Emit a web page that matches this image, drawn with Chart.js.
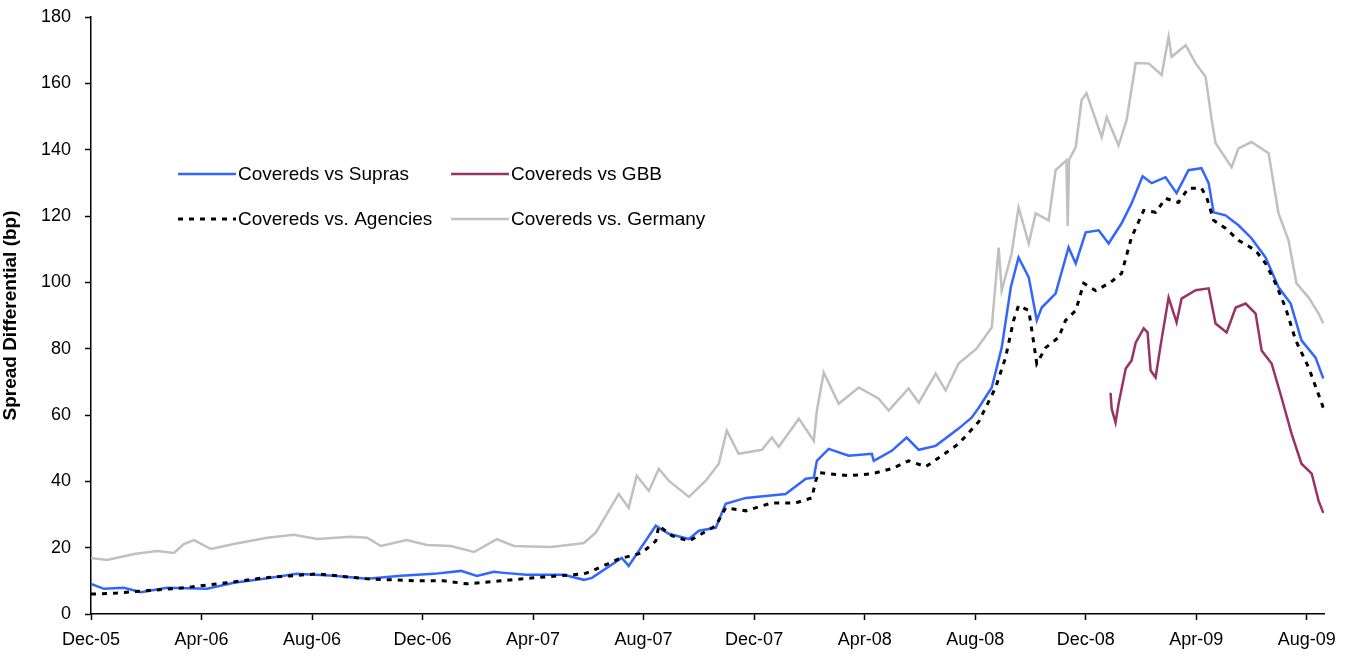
<!DOCTYPE html>
<html>
<head>
<meta charset="utf-8">
<title>Spread Differential</title>
<script src="https://cdn.jsdelivr.net/npm/chart.js@4.4.1/dist/chart.umd.min.js"></script>
<style>
    html, body { margin: 0; padding: 0; background: #ffffff; }
    #wrap { width: 1345px; height: 657px; }
</style>
</head>
<body>
<div id="wrap"><canvas id="grafico" width="1345" height="657"></canvas></div>
<script>
// EJE X - meses desde Dec-05, una marca cada 4 meses
var tickMonths = [0, 4, 8, 12, 16, 20, 24, 28, 32, 36, 40, 44];
var xTickLabels = ["Dec-05", "Apr-06", "Aug-06", "Dec-06", "Apr-07", "Aug-07",
    "Dec-07", "Apr-08", "Aug-08", "Dec-08", "Apr-09", "Aug-09"];

// SERIES (bp)
var suprasMonths = [0, 0.47, 1.19, 1.81, 2.75, 4.20, 5.17, 6.26, 7.45, 8.79, 9.99, 11.22, 12.41, 13.39, 13.97,
    14.58, 14.94, 15.77, 17.11, 17.84, 18.13, 19.21, 19.46, 20.44, 20.91, 21.64, 22.00, 22.61, 22.97, 23.70,
    24.42, 25.14, 25.87, 26.16, 26.27, 26.70, 27.42, 28.26, 28.33, 28.98, 29.52, 29.96, 30.57, 31.40, 31.87,
    32.13, 32.60, 32.96, 33.29, 33.57, 33.94, 34.23, 34.41, 34.91, 35.38, 35.64, 36.00, 36.47, 36.83, 37.30,
    37.66, 38.06, 38.39, 38.89, 39.29, 39.72, 40.19, 40.45, 40.63, 41.06, 41.53, 42.00, 42.51, 42.98, 43.42,
    43.81, 44.32, 44.6];
var suprasBp = [9.1, 7.6, 7.9, 6.6, 7.9, 7.6, 9.4, 10.6, 12.1, 11.5, 10.6, 11.5, 12.1, 13.0, 11.5,
    12.7, 12.4, 11.8, 11.8, 10.3, 10.9, 16.9, 14.5, 26.6, 24.2, 22.6, 25.1, 26.0, 33.2, 35.0,
    35.6, 36.2, 40.8, 41.1, 46.2, 49.8, 47.7, 48.3, 46.2, 49.2, 53.2, 49.5, 50.7, 55.9, 59.2,
    62.2, 68.3, 80.3, 98.5, 107.5, 101.5, 88.5, 92.4, 96.6, 110.5, 105.7, 115.1, 115.7, 111.7, 117.8,
    123.8, 132.0, 129.9, 131.7, 126.9, 133.8, 134.4, 129.9, 121.1, 120.2, 117.2, 113.3, 107.5, 98.5, 93.6,
    82.5, 77.3, 71.0];

var gbbMonths = [36.90, 36.94, 37.08, 37.19, 37.45, 37.66, 37.81, 38.10, 38.24, 38.35, 38.53, 38.71, 39.00,
    39.29, 39.47, 39.98, 40.45, 40.70, 41.10, 41.43, 41.79, 42.15, 42.37, 42.73, 43.09, 43.45, 43.81, 44.18,
    44.43, 44.6];
var gbbBp = [66.7, 61.9, 57.7, 63.4, 74.0, 76.4, 81.8, 86.1, 84.9, 73.4, 71.3, 80.9, 95.4,
    87.9, 95.1, 97.6, 98.2, 87.6, 84.9, 92.4, 93.6, 90.6, 79.4, 75.5, 65.2, 54.4, 45.3, 42.3,
    34.1, 30.5];

var agenciesMonths = [0, 0.94, 1.81, 3.36, 4.92, 6.26, 8.18, 9.99, 11.79, 12.77, 13.60, 14.83, 16.03, 17.84,
    18.13, 19.10, 19.93, 20.44, 20.55, 21.02, 21.64, 22.61, 22.97, 23.70, 24.64, 25.51, 26.09, 26.23, 26.34,
    27.42, 28.26, 28.98, 29.59, 30.21, 30.79, 31.40, 32.13, 32.74, 33.10, 33.39, 33.57, 33.94, 34.04, 34.23,
    34.55, 35.02, 35.27, 35.64, 35.93, 36.36, 36.90, 37.30, 37.66, 38.10, 38.53, 38.89, 39.36, 39.72, 40.19,
    40.38, 40.63, 41.06, 41.53, 42.15, 42.51, 42.87, 43.23, 43.60, 44.07, 44.6];
var agenciesBp = [6.0, 6.3, 6.9, 7.9, 9.4, 10.9, 12.1, 10.6, 10.0, 10.0, 9.1, 10.0, 10.9, 12.1,
    13.0, 16.6, 18.4, 22.0, 26.6, 23.6, 22.0, 26.6, 32.0, 31.1, 33.5, 33.5, 35.0, 40.2, 42.6,
    41.7, 42.3, 43.8, 46.2, 44.4, 47.7, 51.3, 58.0, 68.3, 77.3, 88.5, 93.0, 91.5, 86.1, 75.5,
    80.3, 83.4, 88.5, 91.5, 99.7, 97.5, 100.0, 102.7, 113.6, 121.7, 121.1, 125.3, 124.1, 128.4, 128.4,
    125.6, 118.7, 116.3, 112.7, 109.6, 105.7, 99.7, 92.4, 82.5, 74.3, 62.2];

var germanyMonths = [0, 0.58, 1.56, 2.39, 3.00, 3.36, 3.73, 4.34, 5.17, 6.37, 7.34, 8.18, 9.41, 9.99, 10.49,
    11.43, 12.16, 13.02, 13.86, 14.69, 15.30, 16.64, 17.58, 17.84, 18.27, 19.10, 19.46, 19.75, 20.19, 20.55,
    20.91, 21.64, 22.25, 22.72, 23.01, 23.44, 24.28, 24.64, 24.89, 25.62, 26.16, 26.27, 26.52, 27.06, 27.79,
    28.51, 28.87, 29.59, 29.96, 30.57, 30.93, 31.40, 32.05, 32.60, 32.85, 32.96, 33.32, 33.57, 33.94, 34.19,
    34.66, 34.91, 35.30, 35.35, 35.40, 35.64, 35.85, 36.03, 36.58, 36.76, 37.19, 37.48, 37.81, 38.28, 38.75,
    39.00, 39.11, 39.62, 39.98, 40.34, 40.56, 40.70, 41.28, 41.53, 42.00, 42.62, 42.98, 43.34, 43.63, 44.07,
    44.43, 44.6];
var germanyBp = [16.9, 16.3, 18.1, 19.0, 18.4, 21.1, 22.3, 19.6, 21.1, 23.0, 23.9, 22.6, 23.3, 23.0, 20.5,
    22.3, 20.8, 20.5, 18.7, 22.6, 20.5, 20.2, 21.1, 21.4, 24.5, 36.2, 32.0, 41.7, 37.1, 43.8,
    40.2, 35.3, 40.2, 45.3, 55.3, 48.3, 49.5, 53.2, 50.4, 58.9, 52.2, 61.3, 72.8, 63.4, 68.3,
    64.9, 61.3, 68.0, 63.7, 72.5, 67.4, 75.5, 80.0, 86.4, 110.5, 97.5, 108.7, 122.6, 111.7, 120.8,
    118.7, 133.8, 136.8, 117.0, 137.0, 140.7, 154.9, 157.0, 143.8, 149.8, 141.3, 148.9, 166.1, 166.0, 162.5,
    174.0, 168.0, 171.5, 166.0, 162.0, 148.9, 142.0, 134.7, 140.4, 142.3, 138.9, 120.8, 112.7, 99.7, 95.4,
    90.6, 87.6];

var FUENTE = "'Liberation Sans', Arial, sans-serif";

// junta meses y valores en puntos {x, y}
function puntos(meses, valores) {
    var i;
    var res = [];
    for (i = 0; i < meses.length; i += 1) {
        res.push({x: meses[i], y: valores[i]});
    }
    return res;
}

// Fondo blanco
var fondoPlugin = {
    id: "fondo",
    beforeDraw: function (chart) {
        var ctx = chart.ctx;
        ctx.save();
        ctx.fillStyle = "#ffffff";
        ctx.fillRect(0, 0, chart.width, chart.height);
        ctx.restore();
    }
};

// LEYENDA dentro del area del grafico, en dos columnas
var leyendaPlugin = {
    id: "leyenda",
    afterDraw: function (chart) {
        var ctx = chart.ctx;
        var area = chart.chartArea;
        // dataset, columna, fila
        var items = [[0, 0, 0], [1, 1, 0], [2, 0, 1], [3, 1, 1]];
        var colX = [87, 360];
        var rowY = [157, 202];
        var largo = 58;
        ctx.save();
        ctx.font = "19px " + FUENTE;
        ctx.textBaseline = "middle";
        ctx.fillStyle = "#000000";
        items.forEach(function (it) {
            var ds = chart.data.datasets[it[0]];
            var x0 = area.left + colX[it[1]];
            var y0 = area.top + rowY[it[2]];
            ctx.beginPath();
            ctx.strokeStyle = ds.borderColor;
            ctx.lineWidth = ds.borderWidth;
            ctx.setLineDash(ds.borderDash || []);
            ctx.moveTo(x0, y0);
            ctx.lineTo(x0 + largo, y0);
            ctx.stroke();
            ctx.setLineDash([]);
            ctx.fillText(ds.label, x0 + largo + 2, y0 + 1);
        });
        ctx.restore();
    }
};

function cargaGrafico() {
    var datos = {
        datasets: [{
            label: "Covereds vs Supras",
            data: puntos(suprasMonths, suprasBp),
            borderColor: "#3366ff",
            borderWidth: 2.5,
            order: 3
        }, {
            label: "Covereds vs GBB",
            data: puntos(gbbMonths, gbbBp),
            borderColor: "#993366",
            borderWidth: 2.5,
            order: 2
        }, {
            label: "Covereds vs. Agencies",
            data: puntos(agenciesMonths, agenciesBp),
            borderColor: "#000000",
            borderWidth: 3,
            borderDash: [5, 6],
            order: 1
        }, {
            label: "Covereds vs. Germany",
            data: puntos(germanyMonths, germanyBp),
            borderColor: "#c0c0c0",
            borderWidth: 2.5,
            order: 0
        }]
    };

    var config = {
        type: "line",
        data: datos,
        options: {
            responsive: false,
            animation: false,
            devicePixelRatio: 1,
            layout: {
                padding: {top: 17, right: 17, left: 0, bottom: 0}
            },
            elements: {
                point: {radius: 0},
                line: {tension: 0, fill: false}
            },
            plugins: {
                legend: {display: false},
                tooltip: {enabled: false}
            },
            scales: {
                x: {
                    type: "linear",
                    min: 0,
                    max: 44.65,
                    afterBuildTicks: function (scale) {
                        scale.ticks = tickMonths.map(function (m) {
                            return {value: m};
                        });
                    },
                    afterFit: function (scale) {
                        scale.height = 43;
                    },
                    ticks: {
                        autoSkip: false,
                        maxRotation: 0,
                        padding: 9,
                        color: "#000000",
                        font: {family: FUENTE, size: 18},
                        callback: function (value) {
                            return xTickLabels[tickMonths.indexOf(value)];
                        }
                    },
                    grid: {
                        drawOnChartArea: false,
                        drawTicks: true,
                        tickLength: 6,
                        tickColor: "#000000",
                        tickWidth: 1.5
                    },
                    border: {color: "#000000", width: 1.5}
                },
                y: {
                    min: 0,
                    max: 180,
                    afterFit: function (scale) {
                        scale.width = 91;
                        // sin margen extra arriba/abajo por las etiquetas
                        scale.paddingTop = 0;
                        scale.paddingBottom = 0;
                    },
                    ticks: {
                        stepSize: 20,
                        padding: 14,
                        color: "#000000",
                        font: {family: FUENTE, size: 18}
                    },
                    title: {
                        display: true,
                        text: "Spread Differential (bp)",
                        color: "#000000",
                        font: {family: FUENTE, size: 19, weight: "bold", lineHeight: 1.1},
                        padding: {top: 0, bottom: 0}
                    },
                    grid: {
                        drawOnChartArea: false,
                        drawTicks: true,
                        tickLength: 6,
                        tickColor: "#000000",
                        tickWidth: 1.5
                    },
                    border: {color: "#000000", width: 1.5}
                }
            }
        },
        plugins: [fondoPlugin, leyendaPlugin]
    };

    var grafico = document.getElementById("grafico").getContext("2d");
    new Chart(grafico, config);
}

cargaGrafico();
</script>
</body>
</html>
